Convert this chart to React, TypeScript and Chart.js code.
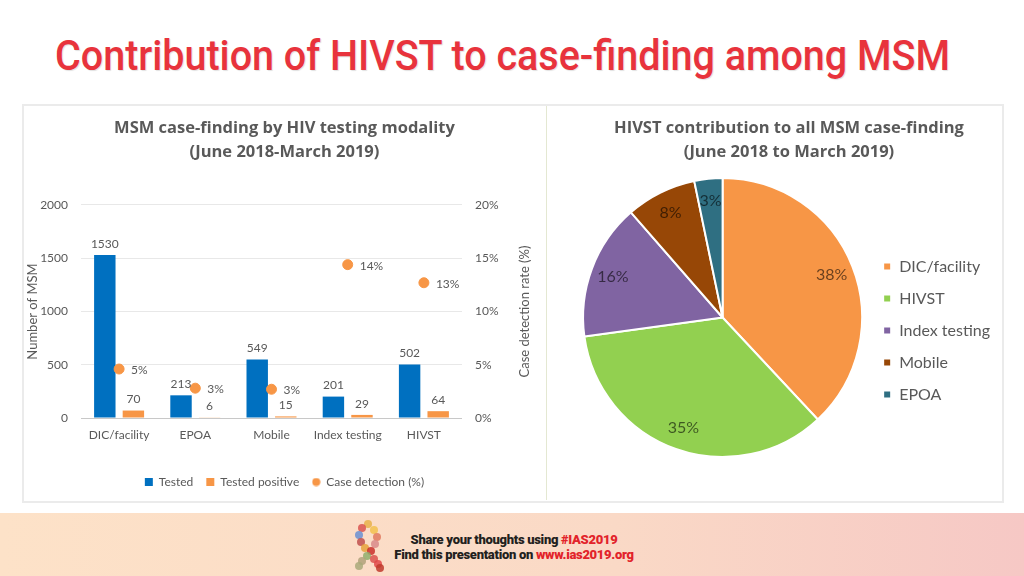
import React, { useEffect, useRef } from "react";
import { Chart, registerables } from "chart.js";

Chart.register(...registerables);

const categories = ["DIC/facility", "EPOA", "Mobile", "Index testing", "HIVST"];
const tested = [1530, 213, 549, 201, 502];
const testedPositive = [70, 6, 15, 29, 64];
const detectionRate = [4.6, 2.8, 2.7, 14.4, 12.7];
const leftTicks = [0, 500, 1000, 1500, 2000];
const rightTicks = [0, 5, 10, 15, 20];

const pieLabels = ["DIC/facility", "HIVST", "Index testing", "Mobile", "EPOA"];
const pieValues = [70, 64, 29, 15, 6];
const pieColors = ["#f79646", "#92d050", "#8064a2", "#974706", "#2f6f82"];

const FONT = "Lato, 'Open Sans', sans-serif";
const TITLE_FONT = "'Open Sans', Lato, sans-serif";
const GREY = "#595959";
const ORANGE = "#f79646";

const barLabelPlugin = {
  id: "barLabels",
  afterDatasetsDraw(chart: any) {
    const ctx = chart.ctx;
    ctx.save();
    ctx.font = `12px ${FONT}`;
    ctx.fillStyle = GREY;
    chart.data.datasets.forEach((ds: any, i: number) => {
      const meta = chart.getDatasetMeta(i);
      meta.data.forEach((el: any, j: number) => {
        const v = ds.data[j];
        if (ds.type === "line") {
          ctx.textAlign = "left";
          ctx.textBaseline = "middle";
          ctx.fillText(Math.round(v) + "%", el.x + 12, el.y + 1);
        } else {
          ctx.textAlign = "center";
          ctx.textBaseline = "bottom";
          ctx.fillText(String(v), el.x, el.y - 5);
        }
      });
    });
    // right axis title, reading bottom-to-top
    ctx.save();
    ctx.translate(503, (chart.chartArea.top + chart.chartArea.bottom) / 2);
    ctx.rotate(-Math.PI / 2);
    ctx.font = `13px ${FONT}`;
    ctx.fillStyle = GREY;
    ctx.textAlign = "center";
    ctx.textBaseline = "middle";
    ctx.fillText("Case detection rate (%)", 0, 0);
    ctx.restore();
    ctx.restore();
  },
};

const pieLabelPlugin = {
  id: "pieLabels",
  beforeDraw(chart: any) {
    const lg = chart.legend;
    if (lg && !lg._shifted) {
      lg._shifted = true;
      lg.top += 49;
      lg.bottom += 49;
      lg.left -= 10;
      lg.right -= 10;
    }
  },
  afterUpdate(chart: any) {
    if (chart.legend) chart.legend._shifted = false;
  },
  afterDatasetsDraw(chart: any) {
    const ctx = chart.ctx;
    const ds = chart.data.datasets[0];
    const total = ds.data.reduce((a: number, b: number) => a + b, 0);
    const meta = chart.getDatasetMeta(0);
    ctx.save();
    ctx.font = `16px ${FONT}`;
    ctx.fillStyle = "rgba(0,0,0,0.58)";
    ctx.textAlign = "center";
    ctx.textBaseline = "middle";
    meta.data.forEach((arc: any, i: number) => {
      const mid = (arc.startAngle + arc.endAngle) / 2;
      const r = arc.outerRadius * 0.84;
      const x = arc.x + Math.cos(mid) * r;
      const y = arc.y + Math.sin(mid) * r;
      ctx.fillText(Math.round((ds.data[i] / total) * 100) + "%", x, y);
    });
    ctx.restore();
  },
};

const titleFont = { family: TITLE_FONT, size: 16.5, weight: "bold", lineHeight: 1.4545 };

function BarPanel() {
  const ref = useRef<HTMLCanvasElement>(null);
  useEffect(() => {
    const dot = document.createElement("canvas");
    dot.width = 9;
    dot.height = 9;
    const dctx = dot.getContext("2d")!;
    dctx.fillStyle = ORANGE;
    dctx.beginPath();
    dctx.arc(4.5, 4.5, 4, 0, Math.PI * 2);
    dctx.fill();

    const chart = new Chart(ref.current!, {
      type: "bar",
      data: {
        labels: categories,
        datasets: [
          {
            type: "bar",
            label: "Tested",
            data: tested,
            backgroundColor: "#0070c0",
            yAxisID: "y",
            order: 2,
            categoryPercentage: 0.75,
            barPercentage: 0.75,
          } as any,
          {
            type: "bar",
            label: "Tested positive",
            data: testedPositive,
            backgroundColor: ORANGE,
            yAxisID: "y",
            order: 2,
            categoryPercentage: 0.75,
            barPercentage: 0.75,
          } as any,
          {
            type: "line",
            label: "Case detection (%)",
            data: detectionRate,
            yAxisID: "y2",
            showLine: false,
            pointRadius: 5,
            pointStyle: "circle",
            pointBackgroundColor: ORANGE,
            pointBorderColor: ORANGE,
            backgroundColor: ORANGE,
            borderColor: ORANGE,
            order: 1,
          } as any,
        ],
      },
      options: {
        animation: false,
        responsive: false,
        layout: { padding: { left: 0, right: 0, bottom: 3 } },
        plugins: {
          title: {
            display: true,
            text: ["MSM case-finding by HIV testing modality", "(June 2018-March 2019)"],
            color: GREY,
            font: titleFont,
            padding: { top: 11, bottom: 41 },
          },
          legend: {
            position: "bottom",
            labels: {
              usePointStyle: true,
              boxWidth: 8,
              boxHeight: 8,
              color: GREY,
              font: { family: FONT, size: 12 },
              padding: 13,
              sort: (a: any, b: any) => a.datasetIndex - b.datasetIndex,
              generateLabels: (ch: any) => {
                const items = Chart.defaults.plugins.legend.labels.generateLabels(ch);
                items.forEach((it: any) => {
                  if (it.datasetIndex === 2) it.pointStyle = dot;
                  else it.pointStyle = "rect";
                });
                return items;
              },
            },
          },
          tooltip: { enabled: false },
        },
        scales: {
          x: {
            grid: { display: false, drawTicks: false },
            border: { display: false },
            afterFit: (axis: any) => {
              axis.height = 45;
            },
            ticks: {
              color: GREY,
              font: { family: FONT, size: 12 },
              padding: 10,
              maxRotation: 0,
              minRotation: 0,
              autoSkip: false,
            },
          },
          y: {
            min: 0,
            max: 2000,
            afterBuildTicks: (axis: any) => {
              axis.ticks = leftTicks.map((v) => ({ value: v }));
            },
            afterFit: (axis: any) => {
              axis.width = 59;
            },
            grid: {
              drawTicks: false,
              color: (c: any) => (c.tick && c.tick.value === 0 ? "#c8c8c8" : "#e8e8e8"),
            },
            border: { display: false },
            ticks: {
              color: GREY,
              font: { family: FONT, size: 12 },
              padding: 13,
              callback: (v: any) => String(v),
            },
            title: {
              display: true,
              text: "Number of MSM",
              color: GREY,
              font: { family: FONT, size: 13 },
              padding: { top: 3, bottom: 0 },
            },
          },
          y2: {
            position: "right",
            min: 0,
            max: 20,
            afterBuildTicks: (axis: any) => {
              axis.ticks = rightTicks.map((v) => ({ value: v }));
            },
            afterFit: (axis: any) => {
              axis.width = 85;
            },
            grid: { display: false, drawTicks: false },
            border: { display: false },
            ticks: {
              color: GREY,
              font: { family: FONT, size: 12 },
              padding: 13,
              callback: (v: any) => v + "%",
            },
          },
        },
      } as any,
      plugins: [barLabelPlugin],
    });
    let alive = true;
    if ((document as any).fonts && (document as any).fonts.ready) {
      (document as any).fonts.ready.then(() => {
        if (alive) chart.update();
      });
    }
    return () => {
      alive = false;
      chart.destroy();
    };
  }, []);
  return (
    <canvas
      ref={ref}
      width={525}
      height={396}
      style={{ position: "absolute", left: 22, top: 105, width: 525, height: 396 }}
    />
  );
}

function PiePanel() {
  const ref = useRef<HTMLCanvasElement>(null);
  useEffect(() => {
    const chart = new Chart(ref.current!, {
      type: "pie",
      data: {
        labels: pieLabels,
        datasets: [
          {
            data: pieValues,
            backgroundColor: pieColors,
            borderColor: "#ffffff",
            borderWidth: 2,
          },
        ],
      },
      options: {
        animation: false,
        responsive: false,
        layout: { padding: { left: 20, bottom: 43 } },
        plugins: {
          title: {
            display: true,
            text: ["HIVST contribution to all MSM case-finding", "(June 2018 to March 2019)"],
            color: GREY,
            font: titleFont,
            padding: { top: 11, bottom: 13 },
          },
          legend: {
            position: "right",
            labels: {
              boxWidth: 8,
              boxHeight: 8,
              color: GREY,
              font: { family: FONT, size: 16 },
              padding: 16,
            },
          },
          tooltip: { enabled: false },
        },
      } as any,
      plugins: [pieLabelPlugin],
    });
    let alive = true;
    if ((document as any).fonts && (document as any).fonts.ready) {
      (document as any).fonts.ready.then(() => {
        if (alive) chart.update();
      });
    }
    return () => {
      alive = false;
      chart.destroy();
    };
  }, []);
  return (
    <canvas
      ref={ref}
      width={462}
      height={396}
      style={{ position: "absolute", left: 548, top: 105, width: 462, height: 396 }}
    />
  );
}

function Ribbon() {
  const dots = [
    [18, 6, "#e8b24a"], [12, 10, "#d9534f"], [24, 12, "#f2c14e"], [9, 17, "#6a8fd1"],
    [27, 19, "#e07a5f"], [11, 24, "#c0504d"], [25, 26, "#d88a8a"], [15, 30, "#e6a23c"],
    [21, 33, "#c9302c"], [17, 38, "#8fae6b"], [24, 41, "#d9534f"], [12, 43, "#b0a27a"],
    [28, 46, "#e04848"], [9, 48, "#a9a97a"], [30, 50, "#c0392b"],
  ];
  return (
    <svg width={40} height={56} style={{ position: "absolute", left: 350, top: 518 }}>
      {dots.map((d, i) => (
        <circle key={i} cx={d[0] as number} cy={d[1] as number} r={4} fill={d[2] as string} opacity={0.85} />
      ))}
    </svg>
  );
}

export default function App() {
  return (
    <div
      style={{
        position: "absolute",
        left: 0,
        top: 0,
        width: 1024,
        height: 576,
        background: "#ffffff",
        overflow: "hidden",
        fontFamily: FONT,
      }}
    >
      <div
        style={{
          position: "absolute",
          left: 55,
          top: 35,
          fontFamily: "Roboto, sans-serif",
          fontWeight: 500,
          fontSize: 42,
          lineHeight: "42px",
          color: "#e8333c",
          whiteSpace: "nowrap",
          transform: "scaleX(0.94)",
          transformOrigin: "left top",
          textShadow: "1px 1px 1px rgba(0,0,0,0.12)",
        }}
      >
        Contribution of HIVST to case-finding among MSM
      </div>
      <div
        style={{
          position: "absolute",
          left: 22,
          top: 104,
          width: 978,
          height: 395,
          border: "2px solid #ebebeb",
        }}
      />
      <div style={{ position: "absolute", left: 546, top: 106, width: 1, height: 394, background: "#e4e8d2" }} />
      <BarPanel />
      <PiePanel />
      <div
        style={{
          position: "absolute",
          left: 0,
          top: 513,
          width: 1024,
          height: 63,
          background: "linear-gradient(90deg, #fde2c8 0%, #fad9c6 60%, #f6c8c5 100%)",
        }}
      />
      <Ribbon />
      <div
        style={{
          position: "absolute",
          left: 514,
          top: 532,
          transform: "translateX(-50%)",
          fontFamily: "Roboto, sans-serif",
          fontWeight: 900,
          fontSize: 13,
          lineHeight: "15px",
          color: "#231f20",
          textAlign: "center",
          whiteSpace: "nowrap",
          letterSpacing: -0.3,
        }}
      >
        <div>
          Share your thoughts using <span style={{ color: "#e2232a" }}>#IAS2019</span>
        </div>
        <div>
          Find this presentation on <span style={{ color: "#e2232a" }}>www.ias2019.org</span>
        </div>
      </div>
    </div>
  );
}
